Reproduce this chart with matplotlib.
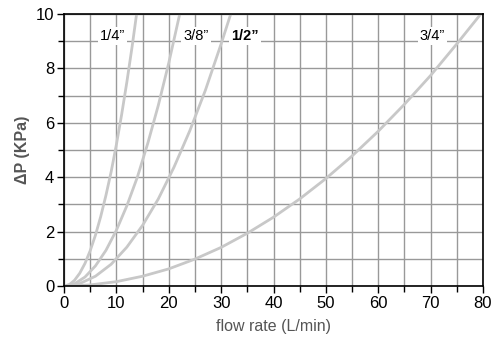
import matplotlib
matplotlib.use("Agg")
import matplotlib.pyplot as plt
from matplotlib.ticker import MultipleLocator

plt.rcParams['font.family'] = ['Liberation Sans', 'DejaVu Sans']

# data
x_14 = [0, 1, 2, 3, 4, 5, 6, 7, 8, 9, 10, 11, 12, 13, 14, 14.5]
y_14 = [0, 0.05, 0.21, 0.47, 0.83, 1.3, 1.87, 2.55, 3.33, 4.2, 5.2, 6.3, 7.5, 8.8, 10.2, 10.9]
x_38 = [0, 2, 4, 6, 8, 10, 12, 14, 16, 18, 20, 22, 23]
y_38 = [0, 0.08, 0.33, 0.74, 1.31, 2.05, 2.95, 4.0, 5.25, 6.64, 8.2, 9.92, 10.8]
x_12 = [0, 3, 6, 9, 12, 15, 18, 21, 24, 27, 30, 32, 33]
y_12 = [0, 0.09, 0.36, 0.8, 1.43, 2.23, 3.2, 4.37, 5.7, 7.2, 8.9, 10.1, 10.8]
x_34 = [0, 5, 10, 15, 20, 25, 30, 35, 40, 45, 50, 55, 60, 65, 70, 75, 80]
y_34 = [0, 0.04, 0.16, 0.36, 0.63, 0.99, 1.42, 1.94, 2.53, 3.2, 3.95, 4.78, 5.69, 6.68, 7.74, 8.9, 10.1]

labels = ['1/4\u201d', '3/8\u201d', '1/2\u201d', '3/4\u201d']
label_x = [9.2, 25.2, 34.6, 70.3]
label_y = [9.2, 9.2, 9.2, 9.2]

fig = plt.figure(figsize=(4.94, 3.38), dpi=100)
ax = fig.add_axes([0.1296, 0.1538, 0.8481, 0.8048])

curve_col = '#c8c8c8'
for xs, ys in [(x_14, y_14), (x_38, y_38), (x_12, y_12), (x_34, y_34)]:
    ax.plot(xs, ys, color=curve_col, lw=2.0, zorder=3, solid_capstyle='round')

ax.set_xlim(0, 80)
ax.set_ylim(0, 10)
ax.xaxis.set_major_locator(MultipleLocator(10))
ax.xaxis.set_minor_locator(MultipleLocator(5))
ax.yaxis.set_major_locator(MultipleLocator(2))
ax.yaxis.set_minor_locator(MultipleLocator(1))
ax.grid(True, which='both', color='#999999', lw=1.0, zorder=1)
ax.set_axisbelow(True)
ax.tick_params(which='both', direction='out', color='black', labelsize=12, width=1, pad=2)
ax.tick_params(which='major', length=5)
ax.tick_params(which='minor', length=4)
for s in ax.spines.values():
    s.set_color('black')
    s.set_linewidth(1.2)
    s.set_zorder(5)

for i, (t, lx, ly) in enumerate(zip(labels, label_x, label_y)):
    ax.text(lx, ly, t, ha='center', va='center', fontsize=10.5,
            fontweight='bold' if i == 2 else 'normal', color='black', zorder=4,
            bbox=dict(facecolor='white', edgecolor='none', pad=1.5))

ax.set_xlabel('flow rate (L/min)', fontsize=11.5, color='#555555', labelpad=6)
ax.set_ylabel('\u0394P (KPa)', fontsize=11.5, color='#555555', fontweight='bold', labelpad=4)

fig.savefig('out.png', dpi=100)
